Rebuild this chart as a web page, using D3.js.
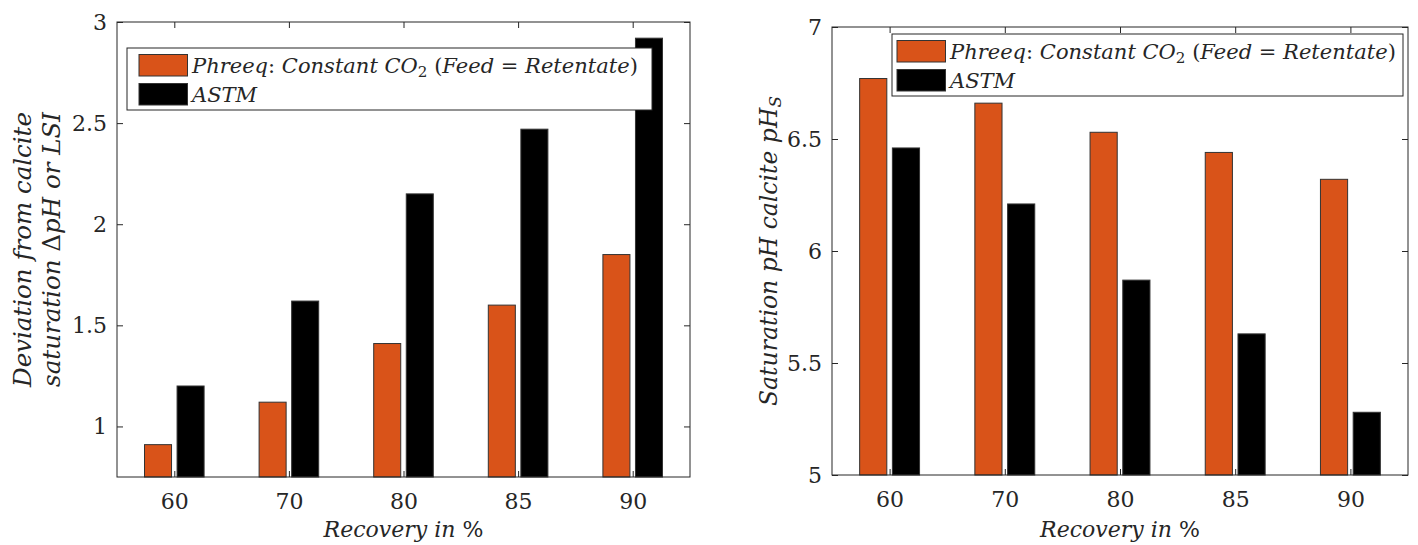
<!DOCTYPE html>
<html>
<head>
<meta charset="utf-8">
<script src="https://cdn.jsdelivr.net/npm/d3@7"></script>
<style>
body { margin: 0; background: #fff; }
text { font-family: "DejaVu Serif", serif; fill: #262626; }
</style>
</head>
<body>
<svg id="chart" width="1418" height="545"></svg>
<script>
// chart values
var recovery = ["60", "70", "80", "85", "90"];
var seriesNames = ["phreeq", "astm"];
var seriesColors = ["#D95319", "#000000"];
var phreeqDev = [0.91, 1.12, 1.41, 1.60, 1.85];
var astmDev = [1.20, 1.62, 2.15, 2.47, 2.92];
var phreeqPhs = [6.77, 6.66, 6.53, 6.44, 6.32];
var astmPhs = [6.46, 6.21, 5.87, 5.63, 5.28];
var leftTicks = [1, 1.5, 2, 2.5, 3];
var rightTicks = [5, 5.5, 6, 6.5, 7];

var legendParts = [
	[["Phreeq", 1], [": ", 0], ["Constant CO", 1], ["2", 0, "sub"], [" (", 0], ["Feed", 1], [" = ", 0], ["Retentate", 1], [")", 0]],
	[["ASTM", 1]]
];

var serif = '"DejaVu Serif", serif';
var svg = d3.select('#chart');

// write a list of [text, italic, sub] parts as tspans
function writeParts(t, parts) {
	parts.forEach(function(p) {
		var ts = t.append('tspan')
			.text(p[0])
			.attr('font-style', p[1] ? 'italic' : 'normal');
		if (p[2] == "sub") {
			ts.attr('baseline-shift', '-25%').attr('font-size', '0.72em');
		}
	});
}

// shrink/grow font so the text fits the width seen in the picture
function fitWidth(t, base, width) {
	t.attr('font-size', base);
	var len = t.node().getComputedTextLength();
	t.attr('font-size', base * width / len);
}

function drawPanel(cfg) {
	var g = svg.append('g');

	var x = d3.scalePoint()
		.domain(recovery)
		.range([cfg.left, cfg.right])
		.padding(0.5);
	var half = 0.26 * x.step();
	var sub = d3.scaleBand()
		.domain(seriesNames)
		.range([-half, half])
		.paddingInner(0.17);
	var y = d3.scaleLinear()
		.domain(cfg.yDomain)
		.range([cfg.bottom, cfg.top]);

	var series = [
		{ name: seriesNames[0], color: seriesColors[0], values: cfg.values[0] },
		{ name: seriesNames[1], color: seriesColors[1], values: cfg.values[1] }
	];

	g.selectAll('g.series')
		.data(series)
		.enter()
		.append('g')
		.attr('class', 'series')
		.attr('fill', function(d) { return d.color; })
		.selectAll('rect')
		.data(function(d) {
			return d.values.map(function(v, i) { return { cat: recovery[i], v: v, name: d.name }; });
		})
		.enter()
		.append('rect')
		.attr('x', function(d) { return x(d.cat) + sub(d.name); })
		.attr('width', sub.bandwidth())
		.attr('y', function(d) { return y(d.v); })
		.attr('height', function(d) { return y(cfg.yDomain[0]) - y(d.v); })
		.attr('stroke', '#333')
		.attr('stroke-width', 1);

	// axes: inward ticks on all four sides
	var fontSize = 22;
	var bottomAxis = g.append('g')
		.attr('transform', 'translate(0,' + cfg.bottom + ')')
		.call(d3.axisBottom(x).tickSize(-6).tickSizeOuter(0).tickPadding(16));
	var topAxis = g.append('g')
		.attr('transform', 'translate(0,' + cfg.top + ')')
		.call(d3.axisTop(x).tickSize(-6).tickSizeOuter(0).tickFormat(''));
	var leftAxis = g.append('g')
		.attr('transform', 'translate(' + cfg.left + ',0)')
		.call(d3.axisLeft(y).tickValues(cfg.ticks).tickFormat(d3.format('~g')).tickSize(-6).tickSizeOuter(0).tickPadding(10));
	var rightAxis = g.append('g')
		.attr('transform', 'translate(' + cfg.right + ',0)')
		.call(d3.axisRight(y).tickValues(cfg.ticks).tickSize(-6).tickSizeOuter(0).tickFormat(''));

	[bottomAxis, topAxis, leftAxis, rightAxis].forEach(function(a) {
		a.attr('font-family', serif).attr('font-size', fontSize);
		a.select('.domain').remove();
		a.selectAll('line').attr('stroke', '#262626');
		a.selectAll('text')
			.style('font-family', serif)
			.attr('font-size', fontSize)
			.attr('fill', '#262626');
	});

	g.append('rect')
		.attr('x', cfg.left)
		.attr('y', cfg.top)
		.attr('width', cfg.right - cfg.left)
		.attr('height', cfg.bottom - cfg.top)
		.attr('fill', 'none')
		.attr('stroke', '#262626')
		.attr('stroke-width', 1);

	// x label
	var xl = g.append('text')
		.attr('x', (cfg.left + cfg.right) / 2)
		.attr('y', 537)
		.attr('text-anchor', 'middle');
	writeParts(xl, [["Recovery in ", 1], ["%", 0]]);
	fitWidth(xl, 22, 160);

	// y label (one or two lines)
	var midY = (cfg.top + cfg.bottom) / 2;
	cfg.yLabel.forEach(function(line) {
		var t = g.append('text')
			.attr('transform', 'translate(' + line.x + ',' + midY + ') rotate(-90)')
			.attr('text-anchor', 'middle');
		writeParts(t, line.parts);
		fitWidth(t, 22, line.width);
	});

	// legend
	var lg = g.append('g');
	var L = cfg.legend;
	lg.append('rect')
		.attr('x', L.x)
		.attr('y', L.y)
		.attr('width', L.w)
		.attr('height', 62)
		.attr('fill', '#fff')
		.attr('stroke', '#262626')
		.attr('stroke-width', 1);
	var rows = lg.selectAll('g.row')
		.data(series)
		.enter()
		.append('g')
		.attr('class', 'row')
		.attr('transform', function(d, i) { return 'translate(0,' + (L.y + i * 29) + ')'; });
	rows.append('rect')
		.attr('x', L.x + L.sw)
		.attr('y', 6.5)
		.attr('width', 48.5)
		.attr('height', 21.5)
		.attr('fill', function(d) { return d.color; })
		.attr('stroke', '#333');
	var first = null;
	rows.each(function(d, i) {
		var t = d3.select(this).append('text')
			.attr('x', L.x + L.sw + 53)
			.attr('y', 25);
		writeParts(t, legendParts[i]);
		if (i == 0) {
			fitWidth(t, 20, 446);
			first = t.attr('font-size');
		} else {
			t.attr('font-size', first);
		}
	});
}

drawPanel({
	left: 117, right: 690, top: 22, bottom: 477,
	yDomain: [0.75, 3],
	ticks: leftTicks,
	values: [phreeqDev, astmDev],
	yLabel: [
		{ x: 31, width: 275, parts: [["Deviation from calcite", 1]] },
		{ x: 60, width: 275, parts: [["saturation ", 1], ["Δ", 0], ["pH or LSI", 1]] }
	],
	legend: { x: 127, y: 48, w: 525, sw: 12 }
});

drawPanel({
	left: 832, right: 1408, top: 27, bottom: 475,
	yDomain: [5, 7],
	ticks: rightTicks,
	values: [phreeqPhs, astmPhs],
	yLabel: [
		{ x: 777, width: 310, parts: [["Saturation pH calcite pH", 1], ["S", 1, "sub"]] }
	],
	legend: { x: 892, y: 34, w: 511, sw: 5 }
});
</script>
</body>
</html>
